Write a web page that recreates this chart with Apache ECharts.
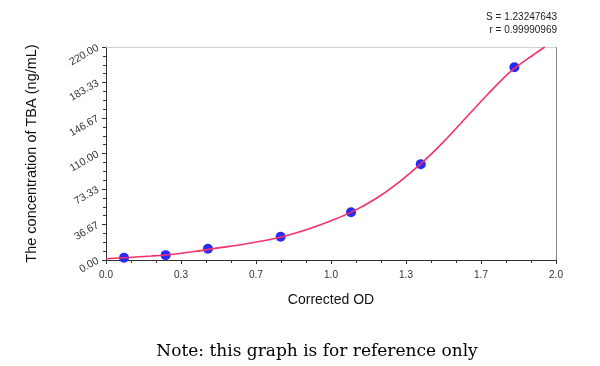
<!DOCTYPE html>
<html>
<head>
<meta charset="utf-8">
<script src="https://cdn.jsdelivr.net/npm/echarts@6/dist/echarts.min.js"></script>
<style>html,body{margin:0;padding:0;background:#fff}#c{width:600px;height:366px}</style>
</head>
<body>
<div id="c"></div>
<script>
// Standard points (Corrected OD, concentration ng/mL)
const pointOD = [0.08, 0.265, 0.453, 0.776, 1.089, 1.399, 1.815];
const pointConc = [2.3, 5.0, 11.6, 24.0, 49.4, 99.0, 199.0];
// Fitted curve
const curveOD = [0.0, 0.1, 0.2, 0.3, 0.4, 0.5, 0.6, 0.7, 0.8, 0.9, 1.0, 1.1, 1.2, 1.3, 1.4, 1.5, 1.6, 1.7, 1.8, 1.9, 1.95];
const curveConc = [1.3, 2.6, 4.1, 6.0, 9.0, 12.5, 15.8, 19.8, 25.0, 32.0, 40.5, 50.5, 63.5, 80.0, 99.5, 122.0, 147.0, 172.0, 195.0, 212.0, 220.0];
const xTickMin = 0, xTickMax = 2, yTickMin = 0, yTickMax = 220;
const statS = 'S = 1.23247643';
const statR = 'r = 0.99990969';
const xName = 'Corrected OD';
const yName = 'The concentration of TBA (ng/mL)';
const note = 'Note: this graph is for reference only';

const chart = echarts.init(document.getElementById('c'), null, {renderer: 'canvas'});
const font = 'Liberation Sans, Arial, sans-serif';
chart.setOption({
  animation: false,
  grid: {left: 106, right: 44, top: 47, bottom: 106},
  title: [
    {text: note, left: 312, top: 338, textAlign: 'center',
     textStyle: {fontSize: 17, fontWeight: 'normal', color: '#000', fontFamily: 'DejaVu Serif, serif'}}
  ],
  graphic: [
    {type: 'text', x: 557, y: 17, style: {text: statS, align: 'right', verticalAlign: 'middle',
      font: '10px ' + font, fill: '#222'}},
    {type: 'text', x: 557, y: 30, style: {text: statR, align: 'right', verticalAlign: 'middle',
      font: '10px ' + font, fill: '#222'}}
  ],
  xAxis: [{
    type: 'value', min: xTickMin, max: xTickMax, interval: 1 / 3,
    name: xName, nameLocation: 'middle', nameGap: 33,
    nameTextStyle: {fontSize: 14, color: '#111', fontFamily: font},
    axisLine: {lineStyle: {color: '#333', width: 1}},
    axisTick: {show: true, inside: false, length: 4, lineStyle: {color: '#333'}},
    minorTick: {show: true, splitNumber: 3, length: 3, lineStyle: {color: '#333'}},
    axisLabel: {fontSize: 10, color: '#333', fontFamily: font, margin: 10,
      formatter: v => v.toFixed(1)},
    splitLine: {show: false}
  }, {
    type: 'value', position: 'top', min: xTickMin, max: xTickMax,
    axisLine: {show: true, onZero: false, lineStyle: {color: '#d0d0d0'}},
    axisTick: {show: false}, axisLabel: {show: false}, splitLine: {show: false}
  }],
  yAxis: [{
    type: 'value', min: yTickMin, max: yTickMax, interval: 220 / 6,
    name: yName, nameLocation: 'middle', nameGap: 67, nameRotate: 90,
    nameTextStyle: {fontSize: 14.5, color: '#111', fontFamily: font},
    axisLine: {show: true, lineStyle: {color: '#333', width: 1}},
    axisTick: {show: true, inside: false, length: 4, lineStyle: {color: '#333'}},
    minorTick: {show: true, splitNumber: 4, length: 3, lineStyle: {color: '#333'}},
    axisLabel: {fontSize: 10.5, color: '#333', fontFamily: font, rotate: 30, margin: 8,
      formatter: v => v.toFixed(2)},
    splitLine: {show: false}
  }, {
    type: 'value', position: 'right', min: yTickMin, max: yTickMax,
    axisLine: {show: true, onZero: false, lineStyle: {color: '#888'}},
    axisTick: {show: false}, axisLabel: {show: false}, splitLine: {show: false}
  }],
  series: [{
    type: 'scatter', data: pointOD.map((x, i) => [x, pointConc[i]]),
    symbolSize: 10, itemStyle: {color: '#2a2af5', opacity: 1}, z: 2
  }, {
    type: 'line', data: curveOD.map((x, i) => [x, curveConc[i]]),
    smooth: 0.3, showSymbol: false, symbol: 'none',
    lineStyle: {color: '#f5306a', width: 1.6}, z: 3
  }]
});
</script>
</body>
</html>
